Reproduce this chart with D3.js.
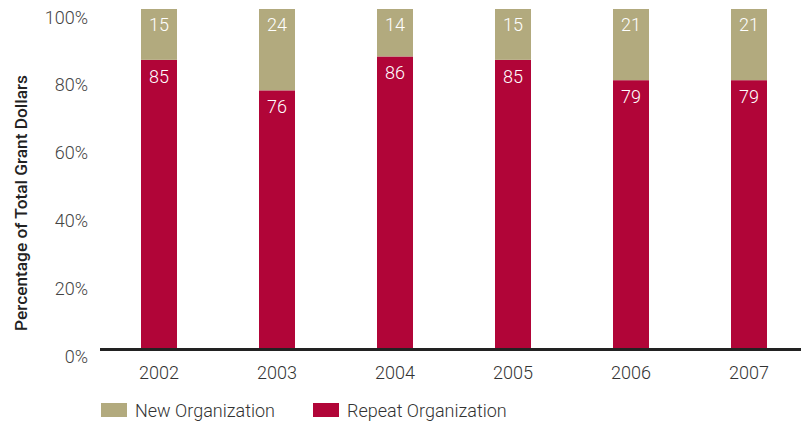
<!DOCTYPE html>
<html><head><meta charset="utf-8">
<script src="https://cdn.jsdelivr.net/npm/d3@7"></script>
<style>body{margin:0;background:#fff}</style>
</head><body>
<svg id="c" width="801" height="421"></svg>
<script>
const years = ["2002","2003","2004","2005","2006","2007"];
const repeatOrg = [85,76,86,85,79,79];
const newOrg = [15,24,14,15,21,21];
const yTicks = [0,20,40,60,80,100];
const seriesNames = ["New Organization","Repeat Organization"];
const colors = {"New Organization":"#b2aa7e","Repeat Organization":"#b10538"};

const svg = d3.select("#c");
const font = "Roboto, 'Liberation Sans', sans-serif";
const x = d3.scaleBand().domain(years).range([100,808]).paddingInner(0.695).paddingOuter(0.3475);
const y = d3.scaleLinear().domain([0,100]).range([348,9]);

const g = svg.append("g");
years.forEach((yr,i)=>{
  const r = repeatOrg[i], n = newOrg[i];
  g.append("rect").attr("x",x(yr)).attr("width",x.bandwidth())
    .attr("y",y(r)).attr("height",y(0)-y(r)).attr("fill",colors["Repeat Organization"]);
  g.append("rect").attr("x",x(yr)).attr("width",x.bandwidth())
    .attr("y",y(r+n)).attr("height",y(r)-y(r+n)).attr("fill",colors["New Organization"]);
  g.append("text").attr("x",x(yr)+x.bandwidth()/2).attr("y",y(r+n)+22)
    .attr("text-anchor","middle").attr("fill","#fff").attr("font-family",font)
    .attr("font-weight",300).attr("font-size",18).text(n);
  g.append("text").attr("x",x(yr)+x.bandwidth()/2).attr("y",y(r)+23)
    .attr("text-anchor","middle").attr("fill","#fff").attr("font-family",font)
    .attr("font-weight",300).attr("font-size",18).text(r);
});

// y axis labels
const ya = svg.append("g").attr("transform","translate(88,0)")
  .call(d3.axisLeft(y).tickValues(yTicks).tickSize(0).tickPadding(0).tickFormat(d=>d+"%"));
ya.select(".domain").remove();
ya.selectAll("text").attr("font-family",font).attr("font-weight",300).attr("font-size",18)
  .attr("fill","#444").attr("dy",14);

// x axis
const xa = svg.append("g").attr("transform","translate(0,349.5)")
  .call(d3.axisBottom(x).tickSize(0).tickPadding(0));
xa.select(".domain").remove();
xa.selectAll("text").attr("font-family",font).attr("font-weight",300).attr("font-size",18)
  .attr("fill","#333").attr("y",0).attr("dy",29.5);
svg.append("line").attr("x1",100).attr("x2",801).attr("y1",349.5).attr("y2",349.5)
  .attr("stroke","#222").attr("stroke-width",3);

// y title
svg.append("text").attr("transform","translate(27,203) rotate(-90)")
  .attr("text-anchor","middle").attr("font-family",font).attr("font-weight",500)
  .attr("font-size",17.3).attr("fill","#222").text("Percentage of Total Grant Dollars");

// legend
const legX = [101,313];
seriesNames.forEach((s,i)=>{
  svg.append("rect").attr("x",legX[i]).attr("y",403).attr("width",26).attr("height",14).attr("fill",colors[s]);
  svg.append("text").attr("x",legX[i]+34).attr("y",417).attr("font-family",font)
    .attr("font-weight",300).attr("font-size",18).attr("fill","#333").text(s);
});
</script>
</body></html>
